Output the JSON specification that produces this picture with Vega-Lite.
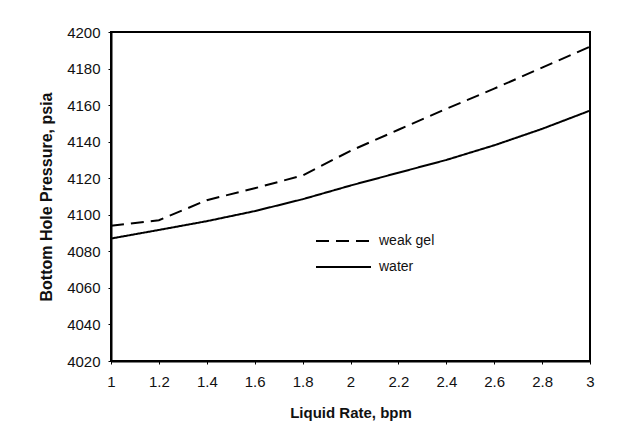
{
  "$schema": "https://vega.github.io/schema/vega-lite/v6.json",
  "width": 479,
  "height": 329,
  "autosize": {"type": "none"},
  "padding": {"left": 111, "top": 32, "right": 42, "bottom": 68},
  "background": "white",
  "data": {
    "values": [
      {"rate": 1.0, "pressure": 4094, "fluid": "weak gel"},
      {"rate": 1.2, "pressure": 4097, "fluid": "weak gel"},
      {"rate": 1.4, "pressure": 4108, "fluid": "weak gel"},
      {"rate": 1.6, "pressure": 4114.5, "fluid": "weak gel"},
      {"rate": 1.8, "pressure": 4121.5, "fluid": "weak gel"},
      {"rate": 2.0, "pressure": 4135, "fluid": "weak gel"},
      {"rate": 2.2, "pressure": 4146.5, "fluid": "weak gel"},
      {"rate": 2.4, "pressure": 4158, "fluid": "weak gel"},
      {"rate": 2.6, "pressure": 4169, "fluid": "weak gel"},
      {"rate": 2.8, "pressure": 4180.5, "fluid": "weak gel"},
      {"rate": 3.0, "pressure": 4192, "fluid": "weak gel"},
      {"rate": 1.0, "pressure": 4087, "fluid": "water"},
      {"rate": 1.2, "pressure": 4091.7, "fluid": "water"},
      {"rate": 1.4, "pressure": 4096.5, "fluid": "water"},
      {"rate": 1.6, "pressure": 4102, "fluid": "water"},
      {"rate": 1.8, "pressure": 4108.5, "fluid": "water"},
      {"rate": 2.0, "pressure": 4116, "fluid": "water"},
      {"rate": 2.2, "pressure": 4123, "fluid": "water"},
      {"rate": 2.4, "pressure": 4130, "fluid": "water"},
      {"rate": 2.6, "pressure": 4138, "fluid": "water"},
      {"rate": 2.8, "pressure": 4147, "fluid": "water"},
      {"rate": 3.0, "pressure": 4157, "fluid": "water"}
    ]
  },
  "mark": {"type": "line", "color": "black", "strokeWidth": 2},
  "encoding": {
    "x": {
      "field": "rate",
      "type": "quantitative",
      "title": "Liquid Rate, bpm",
      "scale": {"domain": [1, 3], "nice": false, "zero": false},
      "axis": {
        "values": [1, 1.2, 1.4, 1.6, 1.8, 2, 2.2, 2.4, 2.6, 2.8, 3],
        "format": ".1~f",
        "grid": false,
        "tickSize": 3,
        "labelPadding": 10,
        "titlePadding": 16,
        "titleFontSize": 15,
        "labelFlush": false
      }
    },
    "y": {
      "field": "pressure",
      "type": "quantitative",
      "title": "Bottom Hole Pressure, psia",
      "scale": {"domain": [4020, 4200], "nice": false, "zero": false},
      "axis": {
        "values": [4020, 4040, 4060, 4080, 4100, 4120, 4140, 4160, 4180, 4200],
        "format": "d",
        "grid": false,
        "tickSize": 3,
        "labelPadding": 8,
        "titlePadding": 12,
        "titleFontSize": 16,
        "labelFlush": false
      }
    },
    "strokeDash": {
      "field": "fluid",
      "type": "nominal",
      "scale": {"domain": ["weak gel", "water"], "range": [[13, 7], [1, 0]]},
      "legend": {
        "title": null,
        "orient": "none",
        "legendX": 204,
        "legendY": 202,
        "symbolType": "stroke",
        "symbolSize": 3025,
        "symbolStrokeWidth": 2,
        "symbolStrokeColor": "black",
        "clipHeight": 14,
        "rowPadding": 12,
        "labelOffset": 7,
        "labelFontSize": 14,
        "labelColor": "#111"
      }
    }
  },
  "config": {
    "font": "Liberation Sans",
    "view": {"stroke": "black", "strokeWidth": 2},
    "axis": {
      "domainColor": "black",
      "domainWidth": 2,
      "tickColor": "black",
      "labelFont": "Liberation Sans",
      "labelFontSize": 15,
      "labelColor": "#111",
      "titleFont": "Liberation Sans",
      "titleFontWeight": "bold",
      "titleColor": "#111"
    }
  }
}
